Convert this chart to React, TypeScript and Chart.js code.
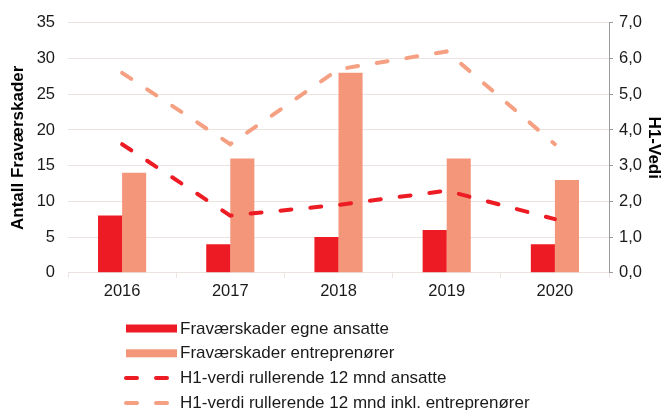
import React, { useEffect, useRef } from "react";
import { Chart, registerables } from "chart.js";

Chart.register(...registerables);

const categories = ["2016", "2017", "2018", "2019", "2020"];
const egneAnsatte = [8, 4, 5, 6, 4];
const entreprenorer = [14, 16, 28, 16, 13];
const h1Ansatte = [3.6, 1.6, 1.9, 2.3, 1.5];
const h1Inkl = [5.6, 3.6, 5.7, 6.2, 3.6];

const labelEgne = "Fraværskader egne ansatte";
const labelEntr = "Fraværskader entreprenører";
const labelH1A = "H1-verdi rullerende 12 mnd ansatte";
const labelH1I = "H1-verdi rullerende 12 mnd inkl. entreprenører";
const leftTitle = "Antall Fraværskader";
const rightTitle = "H1-Vedi";

const RED = "#ED1C24";
const SALMON = "#F4967A";
const SALMON_LINE = "#F5A083";
const GRID = "#ECE2DF";
const FONT = "'Liberation Sans', Arial, sans-serif";
const DASH = [11, 19];

const legendPlugin = {
  id: "verticalLegend",
  afterDraw(chart: any) {
    const ctx = chart.ctx as CanvasRenderingContext2D;
    const x0 = 126;
    const x1 = 177;
    const textX = 180;
    const y0 = 328.5;
    const step = 24.8;
    ctx.save();
    chart.data.datasets.forEach((ds: any, i: number) => {
      const y = y0 + i * step;
      if (ds.type === "line") {
        ctx.strokeStyle = ds.borderColor;
        ctx.lineWidth = ds.borderWidth;
        ctx.lineCap = "round";
        ctx.setLineDash(ds.borderDash);
        ctx.beginPath();
        ctx.moveTo(x0, y);
        ctx.lineTo(x1 - 6, y);
        ctx.stroke();
        ctx.setLineDash([]);
      } else {
        ctx.fillStyle = ds.backgroundColor;
        ctx.fillRect(x0, y - 4, x1 - x0, 8);
      }
      ctx.fillStyle = "#1a1a1a";
      ctx.font = `17px ${FONT}`;
      ctx.textBaseline = "middle";
      ctx.textAlign = "left";
      ctx.fillText(ds.label, textX, y + 0.5);
    });
    ctx.restore();
  },
};

export default function App() {
  const ref = useRef<HTMLCanvasElement | null>(null);

  useEffect(() => {
    if (!ref.current) return;
    const chart = new Chart(ref.current, {
      type: "bar",
      data: {
        labels: categories,
        datasets: [
          {
            type: "bar",
            label: labelEgne,
            data: egneAnsatte,
            backgroundColor: RED,
            yAxisID: "y",
            order: 1,
            barPercentage: 1,
            categoryPercentage: 0.445,
          },
          {
            type: "bar",
            label: labelEntr,
            data: entreprenorer,
            backgroundColor: SALMON,
            yAxisID: "y",
            order: 1,
            barPercentage: 1,
            categoryPercentage: 0.445,
          },
          {
            type: "line",
            label: labelH1A,
            data: h1Ansatte,
            borderColor: RED,
            backgroundColor: RED,
            borderWidth: 4,
            borderDash: DASH,
            borderCapStyle: "round",
            pointRadius: 0,
            tension: 0,
            yAxisID: "y2",
            order: 0,
          },
          {
            type: "line",
            label: labelH1I,
            data: h1Inkl,
            borderColor: SALMON_LINE,
            backgroundColor: SALMON_LINE,
            borderWidth: 4,
            borderDash: DASH,
            borderCapStyle: "round",
            pointRadius: 0,
            tension: 0,
            yAxisID: "y2",
            order: 0,
          },
        ] as any,
      },
      options: {
        animation: false,
        responsive: true,
        maintainAspectRatio: false,
        layout: { padding: { left: 8, right: 0, top: 12, bottom: 104.5 } },
        plugins: {
          legend: { display: false },
          tooltip: { enabled: false },
        },
        scales: {
          x: {
            offset: true,
            grid: {
              offset: true,
              drawOnChartArea: false,
              drawTicks: true,
              tickLength: 5,
              color: GRID,
            },
            border: { color: GRID, width: 1 },
            ticks: {
              color: "#1a1a1a",
              font: { family: FONT, size: 16.5 },
              padding: 4,
            },
          },
          y: {
            position: "left",
            min: 0,
            max: 35,
            afterFit: (scale: any) => {
              scale.width = 60;
            },
            ticks: {
              stepSize: 5,
              color: "#1a1a1a",
              font: { family: FONT, size: 16.5 },
              padding: 13,
            },
            grid: { color: GRID, drawTicks: false },
            border: { display: false },
            title: {
              display: true,
              text: leftTitle,
              color: "#000",
              font: { family: FONT, size: 17, weight: "bold", lineHeight: 1.2 },
              padding: { top: 0, bottom: 0 },
            },
          },
          y2: {
            position: "right",
            min: 0,
            max: 7,
            afterFit: (scale: any) => {
              scale.width = 53;
            },
            ticks: {
              stepSize: 1,
              color: "#1a1a1a",
              font: { family: FONT, size: 16.5 },
              padding: 6,
              callback: (v: any) => Number(v).toFixed(1).replace(".", ","),
            },
            grid: {
              drawOnChartArea: false,
              drawTicks: true,
              tickLength: 4,
              color: "#9a9a9a",
            },
            border: { color: "#9a9a9a", width: 1 },
            title: {
              display: true,
              text: rightTitle,
              color: "#000",
              font: { family: FONT, size: 17, weight: "bold", lineHeight: 1 },
              padding: { top: 0, bottom: 0 },
            },
          },
        },
      },
      plugins: [legendPlugin],
    });
    return () => chart.destroy();
  }, []);

  return (
    <div
      style={{
        position: "fixed",
        left: 0,
        top: 0,
        width: 662,
        height: 410,
        background: "#fff",
      }}
    >
      <canvas ref={ref} />
    </div>
  );
}
